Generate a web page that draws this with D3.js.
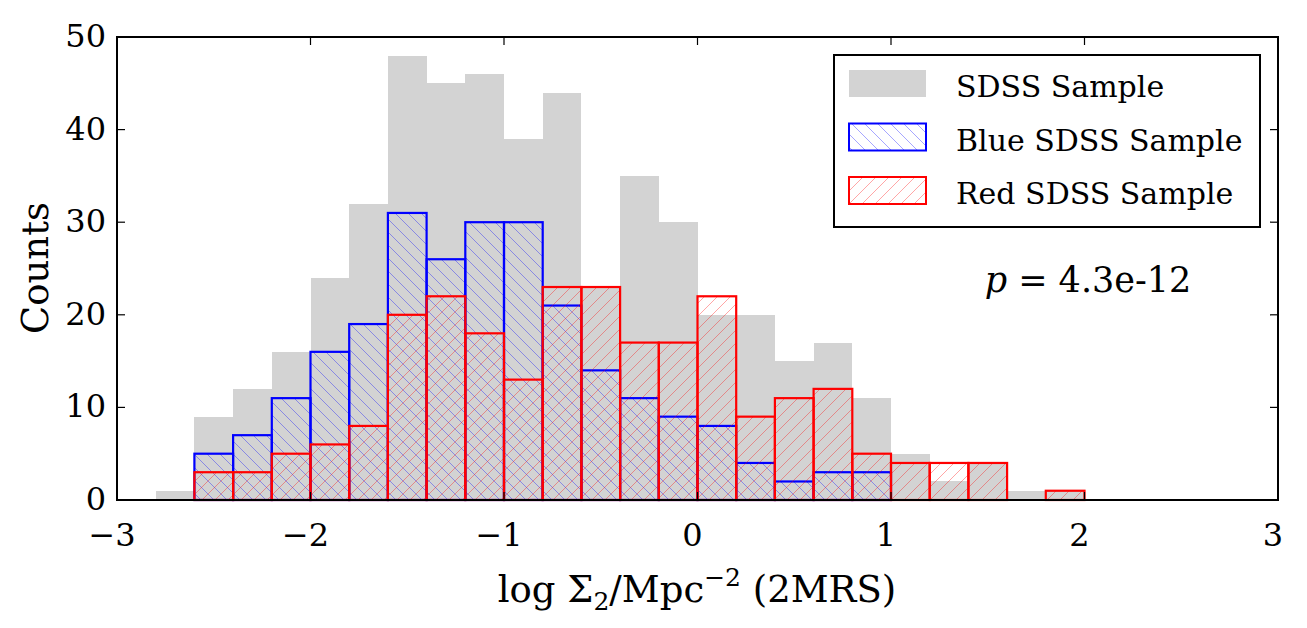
<!DOCTYPE html>
<html>
<head>
<meta charset="utf-8">
<script src="https://cdn.jsdelivr.net/npm/d3@7"></script>
<style>
  body { margin: 0; background: #fff; }
  text { font-family: "DejaVu Serif", "Liberation Serif", serif; fill: #000; }
</style>
</head>
<body>
<svg width="1307" height="628"></svg>
<script>
// bin edges: -2.8 .. 2.0 in steps of 0.2
var binStarts = [-2.8, -2.6, -2.4, -2.2, -2.0, -1.8, -1.6, -1.4, -1.2, -1.0, -0.8, -0.6,
                 -0.4, -0.2, 0.0, 0.2, 0.4, 0.6, 0.8, 1.0, 1.2, 1.4, 1.6, 1.8];
var binWidth = 0.2;
var sdssCounts = [1, 9, 12, 16, 24, 32, 48, 45, 46, 39, 44, 23, 35, 30, 20, 20, 15, 17, 11, 5, 2, 4, 1, 1];
var blueCounts = [0, 5, 7, 11, 16, 19, 31, 26, 30, 30, 21, 14, 11, 9, 8, 4, 2, 3, 3, 0, 0, 0, 0, 0];
var redCounts  = [0, 3, 3, 5, 6, 8, 20, 22, 18, 13, 23, 23, 17, 17, 22, 9, 11, 12, 5, 4, 4, 4, 0, 1];
var xTicks = [-3, -2, -1, 0, 1, 2, 3];
var yTicks = [0, 10, 20, 30, 40, 50];
var legendLabels = ["SDSS Sample", "Blue SDSS Sample", "Red SDSS Sample"];
var pText = "4.3e-12";

var margin = {left: 117, right: 29, top: 37, bottom: 128};
var width = 1307, height = 628;

var svg = d3.select("svg");

var x = d3.scaleLinear().domain([-3, 3]).range([margin.left, width - margin.right]);
var y = d3.scaleLinear().domain([0, 50]).range([height - margin.bottom, margin.top]);

// hatch patterns
var defs = svg.append("defs");
function hatch(id, color, dir) {
  var p = defs.append("pattern")
    .attr("id", id)
    .attr("patternUnits", "userSpaceOnUse")
    .attr("width", 13).attr("height", 13);
  var d = dir === "back" ? "M-1,-1 L14,14 M-14,-1 L1,14 M12,-1 L27,14"
                         : "M-1,14 L14,-1 M-14,14 L1,-1 M12,14 L27,-1";
  p.append("path").attr("d", d)
    .attr("stroke", color).attr("stroke-width", 0.7).attr("stroke-opacity", 0.5)
    .attr("fill", "none");
}
hatch("hatchBlue", "#0000ff", "back");
hatch("hatchRed", "#ff0000", "fwd");

var bins = binStarts.map(function(s, i) {
  return {x0: s, x1: s + binWidth, gray: sdssCounts[i], blue: blueCounts[i], red: redCounts[i]};
});

// gray filled histogram
svg.append("g").selectAll("rect").data(bins).enter().append("rect")
  .attr("x", function(d) { return x(d.x0); })
  .attr("width", function(d) { return x(d.x1) - x(d.x0); })
  .attr("y", function(d) { return y(d.gray); })
  .attr("height", function(d) { return y(0) - y(d.gray); })
  .attr("fill", "#d3d3d3")
  .attr("shape-rendering", "crispEdges");

// blue and red hatched outlines
function outlined(key, color, pat) {
  svg.append("g").selectAll("rect").data(bins).enter().append("rect")
    .attr("x", function(d) { return x(d.x0); })
    .attr("width", function(d) { return x(d.x1) - x(d.x0); })
    .attr("y", function(d) { return y(d[key]); })
    .attr("height", function(d) { return y(0) - y(d[key]); })
    .attr("fill", "url(#" + pat + ")")
    .attr("stroke", color)
    .attr("stroke-width", 2.2);
}
outlined("blue", "#0000ff", "hatchBlue");
outlined("red", "#ff0000", "hatchRed");

// frame
var x0 = margin.left, x1 = width - margin.right, y0 = margin.top, y1 = height - margin.bottom;
svg.append("rect")
  .attr("x", x0).attr("y", y0).attr("width", x1 - x0).attr("height", y1 - y0)
  .attr("fill", "none").attr("stroke", "#000").attr("stroke-width", 2);

// ticks inside on all sides
var tickLen = 8;
var tk = svg.append("g").attr("stroke", "#000").attr("stroke-width", 1.2);
xTicks.forEach(function(t) {
  tk.append("line").attr("x1", x(t)).attr("x2", x(t)).attr("y1", y1).attr("y2", y1 - tickLen);
  tk.append("line").attr("x1", x(t)).attr("x2", x(t)).attr("y1", y0).attr("y2", y0 + tickLen);
});
yTicks.forEach(function(t) {
  tk.append("line").attr("x1", x0).attr("x2", x0 + tickLen).attr("y1", y(t)).attr("y2", y(t));
  tk.append("line").attr("x1", x1).attr("x2", x1 - tickLen).attr("y1", y(t)).attr("y2", y(t));
});

// tick labels
svg.append("g").selectAll("text").data(xTicks).enter().append("text")
  .attr("x", function(d) { return x(d) - 5; })
  .attr("y", y1 + 46)
  .attr("text-anchor", "middle")
  .attr("font-size", 32)
  .text(function(d) { return d < 0 ? "\u2212" + Math.abs(d) : d; });

svg.append("g").selectAll("text").data(yTicks).enter().append("text")
  .attr("x", x0 - 11)
  .attr("y", function(d) { return y(d) + 10; })
  .attr("text-anchor", "end")
  .attr("font-size", 32)
  .text(function(d) { return d; });

// axis labels
var xl = svg.append("text")
  .attr("x", 697).attr("y", 602)
  .attr("text-anchor", "middle").attr("font-size", 37);
xl.append("tspan").text("log \u03A3");
xl.append("tspan").attr("font-size", 25).attr("dy", 8).text("2");
xl.append("tspan").attr("dy", -8).text("/Mpc");
xl.append("tspan").attr("font-size", 25).attr("dy", -16).text("\u22122");
xl.append("tspan").attr("dy", 16).text(" (2MRS)");

svg.append("text")
  .attr("transform", "translate(48," + 268 + ") rotate(-90)")
  .attr("text-anchor", "middle").attr("font-size", 37)
  .text("Counts");

// p-value
var pt = svg.append("text")
  .attr("x", 1088).attr("y", 292)
  .attr("text-anchor", "middle").attr("font-size", 35);
pt.append("tspan").attr("font-style", "italic").text("p");
pt.append("tspan").text(" = " + pText);

// legend
var lg = svg.append("g");
lg.append("rect").attr("x", 834).attr("y", 55).attr("width", 426).attr("height", 172)
  .attr("fill", "#fff").attr("stroke", "#000").attr("stroke-width", 2);
var swatch = [
  {fill: "#d3d3d3", stroke: "none"},
  {fill: "url(#hatchBlue)", stroke: "#0000ff"},
  {fill: "url(#hatchRed)", stroke: "#ff0000"}
];
legendLabels.forEach(function(lab, i) {
  var yy = 70 + i * 53.5;
  lg.append("rect").attr("x", 849).attr("y", yy).attr("width", 77).attr("height", 27)
    .attr("fill", swatch[i].fill).attr("stroke", swatch[i].stroke).attr("stroke-width", 2);
  lg.append("text").attr("x", 956).attr("y", yy + 27).attr("font-size", 30).text(lab);
});
</script>
</body>
</html>
